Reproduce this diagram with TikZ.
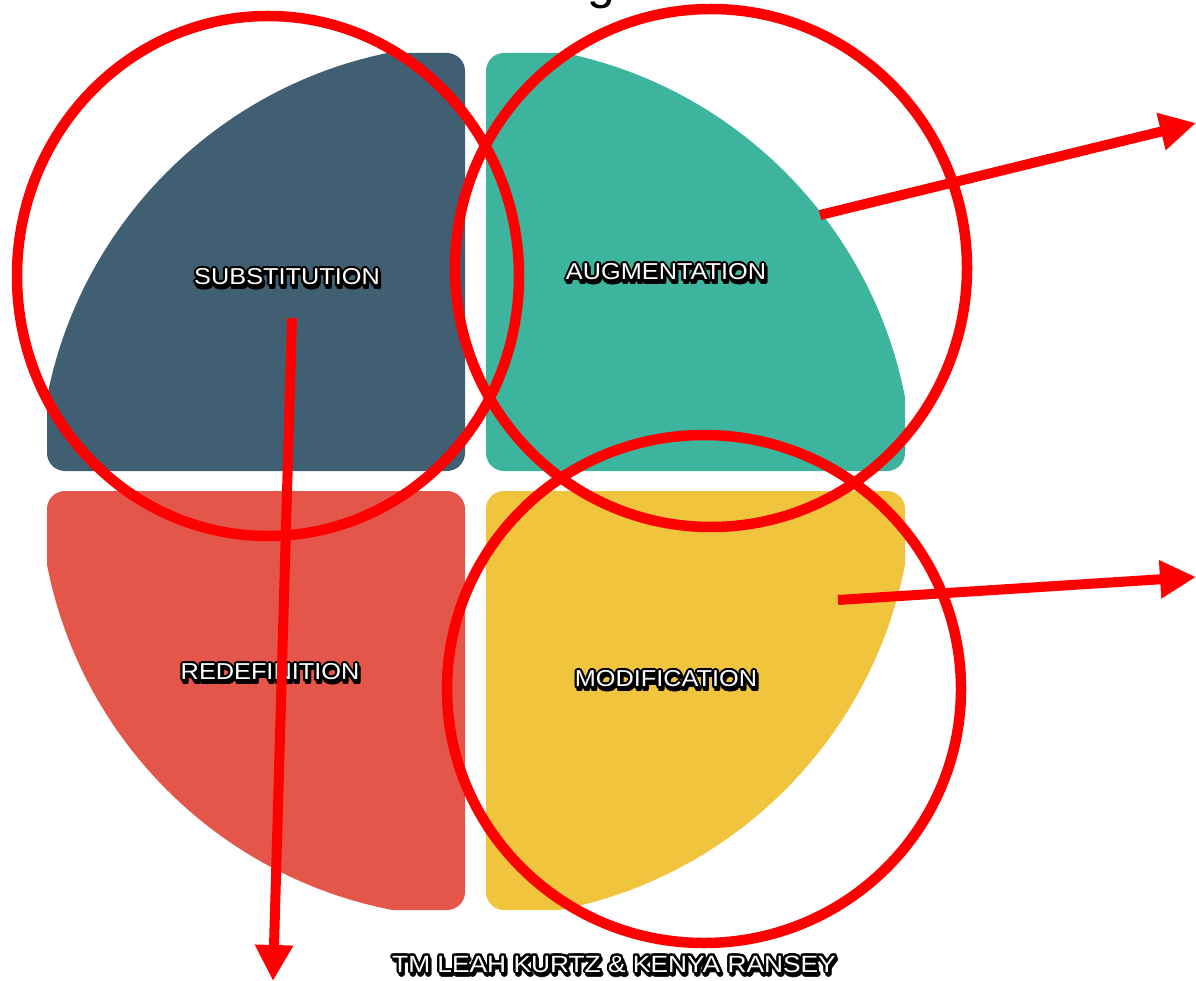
\documentclass[tikz,border=0pt]{standalone}
\usepackage{fontspec}
\usepackage[copies]{contour}
\usetikzlibrary{arrows.meta}
\newfontfamily\lblfont[FakeStretch=1.1]{Liberation Sans}
\newfontfamily\credfont[FakeStretch=1.12]{Liberation Sans}
\newfontfamily\titlefont{Liberation Sans}
\definecolor{qslate}{HTML}{415F72}
\definecolor{qteal}{HTML}{3DB49E}
\definecolor{qred}{HTML}{E4554A}
\definecolor{qyellow}{HTML}{F0C43C}
\definecolor{redpen}{HTML}{FF0000}
\contourlength{2pt}
\contournumber{32}
\tikzset{
  quad/.style={rounded corners=18pt},
  lbl/.style={font=\lblfont\fontsize{23}{26}\selectfont, text=white, inner sep=0pt},
  lblshadow/.style={font=\lblfont\fontsize{23}{26}\selectfont, text=black, inner sep=0pt, opacity=0.45},
  cred/.style={font=\credfont\fontsize{23.5}{26}\selectfont, text=white, inner sep=0pt},
  credshadow/.style={font=\credfont\fontsize{23.5}{26}\selectfont, text=black, inner sep=0pt, opacity=0.45},
  ring/.style={draw=redpen, line width=10.5pt},
  pen/.style={draw=redpen, line width=10pt, -{Triangle[length=36pt,width=36pt]}},
}
\begin{document}
\begin{tikzpicture}[x=1pt,y=-1pt]
\useasboundingbox (0,0) rectangle (1196,981);
\fill[white] (0,0) rectangle (1196,981);
% cropped title glyph
\begin{scope}
\clip (0,0) rectangle (1196,981);
\node[anchor=base, font=\titlefont\fontsize{50}{50}\selectfont, inner sep=0pt] (ttl) at (601,-1) {g};
\end{scope}
% quadrants
\begin{scope}
\clip (476,481) circle (437pt);
\fill[qslate, quad] (47,53) rectangle (465,471);
\fill[qteal, quad] (486,53) rectangle (905,471);
\fill[qred, quad] (47,491) rectangle (465,910);
\fill[qyellow, quad] (486,491) rectangle (905,910);
\end{scope}
% labels
\node[lblshadow] (ssub) at (288.5,281) {\contour{black}{SUBSTITUTION}};
\node[lbl] (sub) at (287,278) {\contour{black}{SUBSTITUTION}};
\node[lblshadow] (saug) at (667.5,276) {\contour{black}{AUGMENTATION}};
\node[lbl] (aug) at (666,273) {\contour{black}{AUGMENTATION}};
\node[lblshadow] (sred) at (271.5,676) {\contour{black}{REDEFINITION}};
\node[lbl] (red) at (270,673) {\contour{black}{REDEFINITION}};
\node[lblshadow] (smod) at (667.5,683) {\contour{black}{MODIFICATION}};
\node[lbl] (mod) at (666,680) {\contour{black}{MODIFICATION}};
% red rings
\draw[ring] (268,276) ellipse [x radius=251pt, y radius=260pt];
\draw[ring] (711,268) ellipse [x radius=256pt, y radius=259pt];
\draw[ring] (704,689) ellipse [x radius=257pt, y radius=254pt];
% credit
\node[credshadow] (scred) at (615.5,968) {\contour{black}{TM LEAH KURTZ \& KENYA RANSEY}};
\node[cred] (credit) at (614,965) {\contour{black}{TM LEAH KURTZ \& KENYA RANSEY}};
% arrows
\coordinate (a1s) at (820,215);
\coordinate (a1e) at (1196,123);
\coordinate (a2s) at (838,600);
\coordinate (a2e) at (1196,577);
\coordinate (a3s) at (292,318);
\coordinate (a3e) at (273,981);
\draw[pen] (a1s) -- (a1e);
\draw[pen] (a2s) -- (a2e);
\draw[pen] (a3s) -- (a3e);
\end{tikzpicture}
\end{document}
